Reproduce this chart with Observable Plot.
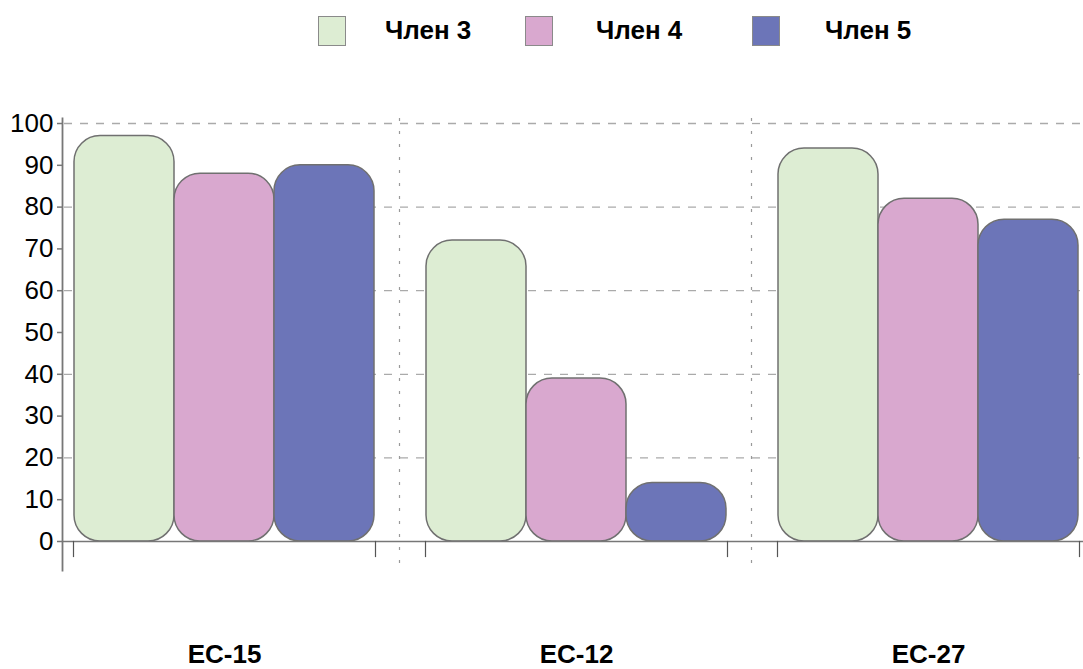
<!DOCTYPE html>
<html>
<head>
<meta charset="utf-8">
<script src="https://cdn.jsdelivr.net/npm/d3@7"></script>
<script src="https://cdn.jsdelivr.net/npm/@observablehq/plot@0.6"></script>
<style>
  body { margin: 0; background: #fff; overflow: hidden; font-family: "Liberation Sans", Arial, sans-serif; }
  #legend { position: relative; height: 60px; width: 1083px; }
  .item { position: absolute; top: 15px; height: 31px; display: flex; align-items: center; }
  .sw { width: 28px; height: 30px; border: 1.5px solid #8a8a8a; box-sizing: border-box; }
  .lab { font-weight: bold; font-size: 26px; color: #000; }
</style>
</head>
<body>
<div id="legend"></div>
<div id="chart"></div>
<script>
// ---- data ----
const groups = ["EC-15", "EC-12", "EC-27"];
const members = ["Член 3", "Член 4", "Член 5"];
const valuesMember3 = [97, 72, 94];
const valuesMember4 = [88, 39, 82];
const valuesMember5 = [90, 14, 77];
const yTicks = [0, 10, 20, 30, 40, 50, 60, 70, 80, 90, 100];
const gridValues = [20, 40, 60, 80, 100];
const colors = ["#ddedd3", "#d9a8cf", "#6c75b8"];

const series = [valuesMember3, valuesMember4, valuesMember5];
const rows = groups.flatMap((g, i) => members.map((m, j) => ({group: g, member: m, value: series[j][i]})));
const gridRows = groups.flatMap(g => gridValues.map(v => ({group: g, v})));
const baseRows = groups.map(g => ({group: g, v: 0}));

// ---- legend ----
const legendLeft = [318, 525, 752];
const legendGap = [39, 43, 45];
const legend = d3.select("#legend");
members.forEach((m, i) => {
  const it = legend.append("div").attr("class", "item").style("left", legendLeft[i] + "px");
  it.append("div").attr("class", "sw").style("background", colors[i]);
  it.append("div").attr("class", "lab").style("margin-left", legendGap[i] + "px").text(m);
});

// ---- chart ----
const first = d => d.group === groups[0];
const notFirst = d => d.group !== groups[0];

const chart = Plot.plot({
  width: 1083,
  height: 609,
  marginLeft: 72,
  marginRight: 4,
  marginTop: 58,
  marginBottom: 99,
  style: {fontFamily: "'Liberation Sans', Arial, sans-serif", background: "#fff"},
  fx: {domain: groups, paddingInner: 0.1425, paddingOuter: 0, axis: null},
  x: {domain: members, padding: 0, axis: null},
  y: {domain: [-6.94, 101.2], axis: null},
  color: {domain: members, range: colors},
  marks: [
    // dashed horizontal gridlines spanning the gaps
    Plot.ruleY(gridRows.filter(first), {fx: "group", y: "v", stroke: "#aaa", strokeWidth: 1.3, strokeDasharray: "8,8", insetLeft: -9, insetRight: -25}),
    Plot.ruleY(gridRows.filter(notFirst), {fx: "group", y: "v", stroke: "#aaa", strokeWidth: 1.3, strokeDasharray: "8,8", insetLeft: -25, insetRight: -25}),
    // dotted separators between groups
    Plot.gridFx({ticks: groups.slice(1), dx: -177, stroke: "#999", strokeOpacity: 1, strokeWidth: 1.2, strokeDasharray: "3,10"}),
    // bars
    Plot.barY(rows, {fx: "group", x: "member", y: "value", fill: "member", stroke: "#707070", strokeWidth: 1.5, rx: 26}),
    // baseline at 0
    Plot.ruleY(baseRows.filter(first), {fx: "group", y: "v", stroke: "#777", strokeWidth: 1.5, insetLeft: -11, insetRight: -25}),
    Plot.ruleY(baseRows.filter(notFirst), {fx: "group", y: "v", stroke: "#777", strokeWidth: 1.5, insetLeft: -25, insetRight: -25}),
    // group edge ticks
    Plot.frame({anchor: "left", insetTop: 423, insetBottom: 14, stroke: "#555", strokeWidth: 1.2}),
    Plot.frame({anchor: "right", insetTop: 423, insetBottom: 14, stroke: "#555", strokeWidth: 1.2}),
    // y axis line
    Plot.frame({anchor: "left", facetAnchor: "left", dx: -11, stroke: "#777", strokeWidth: 1.8}),
    // y axis ticks and labels
    Plot.axisY({ticks: yTicks, tickSize: 5, text: null, stroke: "#777", strokeWidth: 1.5, dx: -11, label: null}),
    Plot.axisY({ticks: yTicks, tickSize: 0, tickPadding: 9, dx: -11, fontSize: 26, fill: "#000", label: null}),
    // group labels
    Plot.axisFx({anchor: "bottom", tickSize: 0, tickPadding: 74, fontSize: 26, fontWeight: "bold", fill: "#000", label: null})
  ]
});
document.getElementById("chart").appendChild(chart);
</script>
</body>
</html>
